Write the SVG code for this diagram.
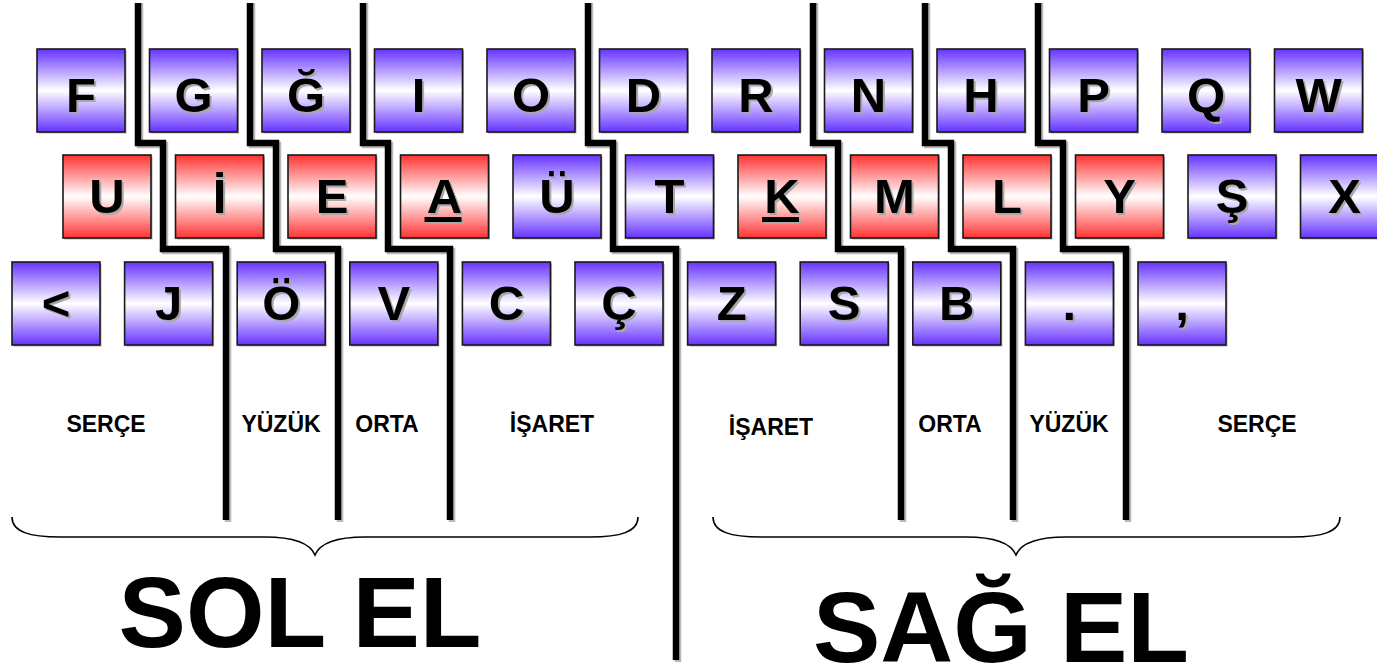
<svg xmlns="http://www.w3.org/2000/svg" width="1377" height="669" viewBox="0 0 1377 669">
<style>
.kb{stroke:#1a1a1a;stroke-width:1.6}
.blue{fill:url(#gb)}
.red{fill:url(#gr)}
.ks{fill:#b0b0b0}
.kt{font-family:"Liberation Sans",Arial,sans-serif;font-weight:bold;font-size:49px;text-anchor:middle;fill:#000}
.sh{fill:#a8a8a8}
.lbl{font-family:"Liberation Sans",Arial,sans-serif;font-weight:bold;font-size:23px;text-anchor:middle;fill:#000}
.big{font-family:"Liberation Sans",Arial,sans-serif;font-weight:bold;font-size:101px;text-anchor:middle;fill:#000}
.ln{fill:none;stroke:#000;stroke-width:6.5;stroke-linejoin:miter}
.lns{fill:none;stroke:#b8b8b8;stroke-width:6.5}
.br{fill:none;stroke:#000;stroke-width:1.6}
</style>
<defs>
<linearGradient id="gb" x1="0" y1="0" x2="0" y2="1">
<stop offset="0" stop-color="#6633ff"/>
<stop offset="0.5" stop-color="#ffffff"/>
<stop offset="1" stop-color="#6633ff"/>
</linearGradient>
<linearGradient id="gr" x1="0" y1="0" x2="0" y2="1">
<stop offset="0" stop-color="#ff3333"/>
<stop offset="0.5" stop-color="#ffffff"/>
<stop offset="1" stop-color="#ff3333"/>
</linearGradient>
<g id="kbox-b"><rect class="ks" x="1.5" y="1.5" width="88" height="83"/><rect class="blue kb" x="0" y="0" width="88" height="83"/></g>
<g id="kbox-r"><rect class="ks" x="1.5" y="1.5" width="88" height="83"/><rect class="red kb" x="0" y="0" width="88" height="83"/></g>
</defs>
<rect width="1377" height="669" fill="#fff"/>

<g id="connectors">
<path class="lns" d="M140,3 V145 H165 V251 H228 V522"/>
<path class="lns" d="M252,3 V145 H278 V251 H340 V522"/>
<path class="lns" d="M365,3 V145 H390 V251 H452 V522"/>
<path class="lns" d="M590,3 V145 H615 V251 H678 V662"/>
<path class="lns" d="M815,3 V145 H840 V251 H903 V522"/>
<path class="lns" d="M927,3 V145 H953 V251 H1015 V522"/>
<path class="lns" d="M1040,3 V145 H1065 V251 H1128 V522"/>
<path class="ln" d="M138,3 V143 H163 V249 H226 V520"/>
<path class="ln" d="M250,3 V143 H276 V249 H338 V520"/>
<path class="ln" d="M363,3 V143 H388 V249 H450 V520"/>
<path class="ln" d="M588,3 V143 H613 V249 H676 V660"/>
<path class="ln" d="M813,3 V143 H838 V249 H901 V520"/>
<path class="ln" d="M925,3 V143 H951 V249 H1013 V520"/>
<path class="ln" d="M1038,3 V143 H1063 V249 H1126 V520"/>
<path class="br" d="M12,517 C12,532 30,537 60,537 L265,537 C295,537 310,543 315,555 C320,543 335,537 365,537 L590,537 C620,537 638,532 638,517"/>
<path class="br" d="M713,517 C713,532 731,537 761,537 L966,537 C996,537 1011,543 1016,555 C1021,543 1036,537 1066,537 L1292,537 C1322,537 1340,532 1340,517"/>
</g>

<!-- Row 1 -->
<g id="key-F"><use href="#kbox-b" x="37" y="49"/><text class="kt sh" x="83" y="114">F</text><text class="kt" x="81" y="112">F</text></g>
<g id="key-G"><use href="#kbox-b" x="149.5" y="49"/><text class="kt sh" x="195.5" y="114">G</text><text class="kt" x="193.5" y="112">G</text></g>
<g id="key-Gbreve"><use href="#kbox-b" x="262" y="49"/><text class="kt sh" x="308" y="114">Ğ</text><text class="kt" x="306" y="112">Ğ</text></g>
<g id="key-I"><use href="#kbox-b" x="374.5" y="49"/><text class="kt sh" x="420.5" y="114">I</text><text class="kt" x="418.5" y="112">I</text></g>
<g id="key-O"><use href="#kbox-b" x="487" y="49"/><text class="kt sh" x="533" y="114">O</text><text class="kt" x="531" y="112">O</text></g>
<g id="key-D"><use href="#kbox-b" x="599.5" y="49"/><text class="kt sh" x="645.5" y="114">D</text><text class="kt" x="643.5" y="112">D</text></g>
<g id="key-R"><use href="#kbox-b" x="712" y="49"/><text class="kt sh" x="758" y="114">R</text><text class="kt" x="756" y="112">R</text></g>
<g id="key-N"><use href="#kbox-b" x="824.5" y="49"/><text class="kt sh" x="870.5" y="114">N</text><text class="kt" x="868.5" y="112">N</text></g>
<g id="key-H"><use href="#kbox-b" x="937" y="49"/><text class="kt sh" x="983" y="114">H</text><text class="kt" x="981" y="112">H</text></g>
<g id="key-P"><use href="#kbox-b" x="1049.5" y="49"/><text class="kt sh" x="1095.5" y="114">P</text><text class="kt" x="1093.5" y="112">P</text></g>
<g id="key-Q"><use href="#kbox-b" x="1162" y="49"/><text class="kt sh" x="1208" y="114">Q</text><text class="kt" x="1206" y="112">Q</text></g>
<g id="key-W"><use href="#kbox-b" x="1274.5" y="49"/><text class="kt sh" x="1320.5" y="114">W</text><text class="kt" x="1318.5" y="112">W</text></g>

<!-- Row 2 -->
<g id="key-U"><use href="#kbox-r" x="63" y="155"/><text class="kt sh" x="109" y="215">U</text><text class="kt" x="107" y="213">U</text></g>
<g id="key-Idot"><use href="#kbox-r" x="175.5" y="155"/><text class="kt sh" x="221.5" y="215">İ</text><text class="kt" x="219.5" y="213">İ</text></g>
<g id="key-E"><use href="#kbox-r" x="288" y="155"/><text class="kt sh" x="334" y="215">E</text><text class="kt" x="332" y="213">E</text></g>
<g id="key-A"><use href="#kbox-r" x="400.5" y="155"/><text class="kt sh" x="446.5" y="215">A</text><rect class="sh" x="426.5" y="219" width="37" height="5"/><text class="kt" x="444.5" y="213">A</text><rect x="424.5" y="217" width="37" height="5" fill="#000"/></g>
<g id="key-Uuml"><use href="#kbox-b" x="513" y="155"/><text class="kt sh" x="559" y="215">Ü</text><text class="kt" x="557" y="213">Ü</text></g>
<g id="key-T"><use href="#kbox-b" x="625.5" y="155"/><text class="kt sh" x="671.5" y="215">T</text><text class="kt" x="669.5" y="213">T</text></g>
<g id="key-K"><use href="#kbox-r" x="738" y="155"/><text class="kt sh" x="784" y="215">K</text><rect class="sh" x="764" y="219" width="37" height="5"/><text class="kt" x="782" y="213">K</text><rect x="762" y="217" width="37" height="5" fill="#000"/></g>
<g id="key-M"><use href="#kbox-r" x="850.5" y="155"/><text class="kt sh" x="896.5" y="215">M</text><text class="kt" x="894.5" y="213">M</text></g>
<g id="key-L"><use href="#kbox-r" x="963" y="155"/><text class="kt sh" x="1009" y="215">L</text><text class="kt" x="1007" y="213">L</text></g>
<g id="key-Y"><use href="#kbox-r" x="1075.5" y="155"/><text class="kt sh" x="1121.5" y="215">Y</text><text class="kt" x="1119.5" y="213">Y</text></g>
<g id="key-Scedil"><use href="#kbox-b" x="1188" y="155"/><text class="kt sh" x="1234" y="215">Ş</text><text class="kt" x="1232" y="213">Ş</text></g>
<g id="key-X"><use href="#kbox-b" x="1300.5" y="155"/><text class="kt sh" x="1346.5" y="215">X</text><text class="kt" x="1344.5" y="213">X</text></g>

<!-- Row 3 -->
<g id="key-lt"><use href="#kbox-b" x="12" y="262"/><text class="kt sh" x="58" y="322">&lt;</text><text class="kt" x="56" y="320">&lt;</text></g>
<g id="key-J"><use href="#kbox-b" x="124.6" y="262"/><text class="kt sh" x="170.6" y="322">J</text><text class="kt" x="168.6" y="320">J</text></g>
<g id="key-Ouml"><use href="#kbox-b" x="237.2" y="262"/><text class="kt sh" x="283.2" y="322">Ö</text><text class="kt" x="281.2" y="320">Ö</text></g>
<g id="key-V"><use href="#kbox-b" x="349.8" y="262"/><text class="kt sh" x="395.8" y="322">V</text><text class="kt" x="393.8" y="320">V</text></g>
<g id="key-C"><use href="#kbox-b" x="462.4" y="262"/><text class="kt sh" x="508.4" y="322">C</text><text class="kt" x="506.4" y="320">C</text></g>
<g id="key-Ccedil"><use href="#kbox-b" x="575" y="262"/><text class="kt sh" x="621" y="322">Ç</text><text class="kt" x="619" y="320">Ç</text></g>
<g id="key-Z"><use href="#kbox-b" x="687.6" y="262"/><text class="kt sh" x="733.6" y="322">Z</text><text class="kt" x="731.6" y="320">Z</text></g>
<g id="key-S"><use href="#kbox-b" x="800.2" y="262"/><text class="kt sh" x="846.2" y="322">S</text><text class="kt" x="844.2" y="320">S</text></g>
<g id="key-B"><use href="#kbox-b" x="912.8" y="262"/><text class="kt sh" x="958.8" y="322">B</text><text class="kt" x="956.8" y="320">B</text></g>
<g id="key-period"><use href="#kbox-b" x="1025.4" y="262"/><text class="kt sh" x="1071.4" y="322">.</text><text class="kt" x="1069.4" y="320">.</text></g>
<g id="key-comma"><use href="#kbox-b" x="1138" y="262"/><text class="kt sh" x="1184" y="322">,</text><text class="kt" x="1182" y="320">,</text></g>

<!-- finger labels -->
<g id="labels">
<text class="lbl" x="106" y="432">SERÇE</text>
<text class="lbl" x="281" y="432">YÜZÜK</text>
<text class="lbl" x="387" y="432">ORTA</text>
<text class="lbl" x="552" y="432">İŞARET</text>
<text class="lbl" x="771" y="435">İŞARET</text>
<text class="lbl" x="950" y="432">ORTA</text>
<text class="lbl" x="1069" y="432">YÜZÜK</text>
<text class="lbl" x="1257" y="432">SERÇE</text>
</g>

<g id="hands">
<text class="big" x="300" y="647">SOL EL</text>
<text class="big" x="1001" y="662">SAĞ EL</text>
</g>
</svg>
